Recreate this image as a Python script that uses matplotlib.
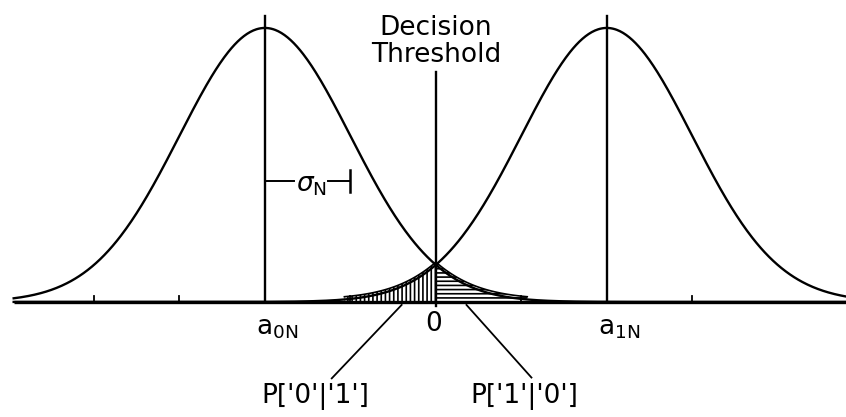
import matplotlib.pyplot as plt
import numpy as np

# signal model, in units of the noise standard deviation
a0n = -2.0   # mean of the '0' distribution
a1n = 2.0    # mean of the '1' distribution
sigma = 1.0
threshold = 0.0
tick_pos = [-4, -3, -1, 1, 3]
hatch_span = 1.07   # how far the shaded error tails reach from the threshold

x_left, x_right = -4.94, 4.8

plt.rcParams['hatch.linewidth'] = 1.2
FS = 19


def gauss(x, mu):
    return np.exp(-(x - mu) ** 2 / (2 * sigma ** 2))


fig = plt.figure(figsize=(8.46, 4.17), dpi=100)
ax = fig.add_axes([0, 0, 1, 1])
ax.set_xlim(-5.1, 4.8)
ax.set_ylim(-0.42, 1.102)
ax.axis('off')

x = np.linspace(x_left, x_right, 800)
ax.plot(x, gauss(x, a0n), color='black', lw=1.7)
ax.plot(x, gauss(x, a1n), color='black', lw=1.7)

# baseline and ticks
ax.plot([x_left, x_right], [0, 0], color='black', lw=2.4, solid_capstyle='butt')
for t in tick_pos:
    ax.plot([t, t], [0, 0.02], color='black', lw=1.3)

# mean lines
for m in (a0n, a1n):
    ax.plot([m, m], [0, 1.044], color='black', lw=1.7)

# decision threshold
ax.plot([threshold, threshold], [-0.015, 0.84], color='black', lw=1.7)
ax.text(threshold, 0.855, 'Decision\nThreshold', ha='center', va='bottom',
        fontsize=FS, linespacing=1.05)

# error probability areas
xl = np.linspace(threshold - hatch_span, threshold, 100)
ax.fill_between(xl, 0, gauss(xl, a1n) + 0.01, facecolor='none', edgecolor='black',
                hatch='||||', linewidth=0)
ax.plot(xl, gauss(xl, a1n) + 0.01, color='black', lw=1.2)
xr = np.linspace(threshold, threshold + hatch_span, 100)
ax.fill_between(xr, 0, gauss(xr, a0n) + 0.01, facecolor='none', edgecolor='black',
                hatch='----', linewidth=0)
ax.plot(xr, gauss(xr, a0n) + 0.01, color='black', lw=1.2)

# sigma bracket
ys = 0.44
ax.plot([a0n, a0n + 0.34], [ys, ys], color='black', lw=1.4)
ax.plot([a0n + 0.74, a0n + sigma], [ys, ys], color='black', lw=1.4)
ax.plot([a0n + sigma, a0n + sigma], [ys - 0.04, ys + 0.04], color='black', lw=1.8)
ax.text(a0n + 0.55, ys - 0.015, r'$\sigma_{\mathrm{N}}$', ha='center', va='center', fontsize=FS)

# axis labels
ax.text(a0n + 0.14, -0.095, r'a$_{\mathrm{0N}}$', ha='center', va='center', fontsize=FS)
ax.text(a1n + 0.14, -0.095, r'a$_{\mathrm{1N}}$', ha='center', va='center', fontsize=FS)
ax.text(threshold - 0.03, -0.08, '0', ha='center', va='center', fontsize=FS)

# leader lines to the error probabilities
ax.plot([-1.218, -0.40], [-0.279, -0.011], color='black', lw=1.3)
ax.plot([0.359, 1.119], [-0.011, -0.276], color='black', lw=1.3)
ax.text(-1.41, -0.345, "P['0'|'1']", ha='center', va='center', fontsize=FS)
ax.text(1.03, -0.345, "P['1'|'0']", ha='center', va='center', fontsize=FS)

fig.savefig('out.png', dpi=100)
